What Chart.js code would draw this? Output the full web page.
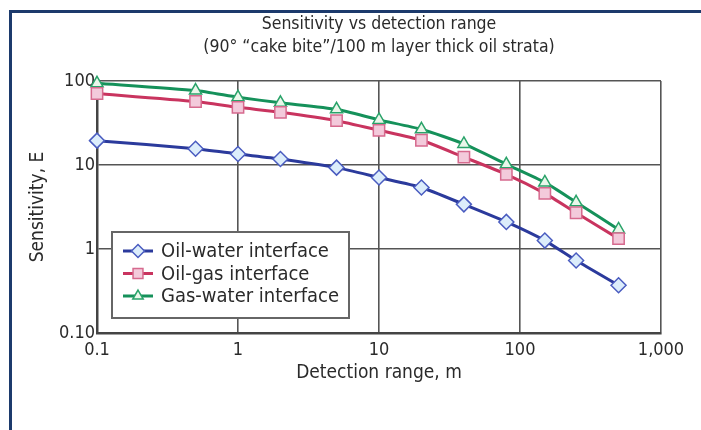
<!DOCTYPE html>
<html>
<head>
<meta charset="utf-8">
<script src="https://cdn.jsdelivr.net/npm/chart.js@4/dist/chart.umd.min.js"></script>
<style>
    html, body { margin: 0; padding: 0; background: #fff; }
    #wrap { position: relative; width: 701px; height: 430px; overflow: hidden; }
    #frame { position: absolute; left: 9px; top: 10px; width: 800px; height: 500px;
             border-left: 3px solid #1c3a6c; border-top: 3px solid #1c3a6c; }
    #sensChart { position: absolute; left: 0; top: 0; }
</style>
</head>
<body>
<div id="wrap">
    <div id="frame"></div>
    <canvas id="sensChart" width="701" height="430"></canvas>
</div>
<script>
// detection range (m) and sensitivity values
const ranges = [0.1, 0.5, 1, 2, 5, 10, 20, 40, 80, 150, 250, 500];
const oilWater = [19.5, 15.6, 13.5, 11.8, 9.3, 7.1, 5.4, 3.4, 2.1, 1.26, 0.73, 0.37];
const oilGas = [71, 57, 48.6, 42.4, 33.7, 25.9, 19.7, 12.4, 7.75, 4.6, 2.7, 1.33];
const gasWater = [94, 77, 64, 55, 46, 34.4, 26.6, 17.8, 10.2, 6.2, 3.6, 1.71];

const xTicks = [0.1, 1, 10, 100, 1000];
const xTickLabels = ['0.1', '1', '10', '100', '1,000'];
const yTicks = [0.1, 1, 10, 100];
const yTickLabels = ['0.10', '1', '10', '100'];

const FONT = "'DejaVu Sans Condensed', 'Liberation Sans', sans-serif";
const TEXT = '#2a2a2a';

function pts(vals) {
    return ranges.map((r, i) => ({ x: r, y: vals[i] }));
}

// legend box drawn inside the plot, lower left
const boxLegend = {
    id: 'boxLegend',
    afterDraw(chart) {
        const ctx = chart.ctx;
        const x0 = 112, y0 = 232, w = 237, h = 86;
        ctx.save();
        ctx.fillStyle = '#fff';
        ctx.fillRect(x0, y0, w, h);
        ctx.strokeStyle = '#666';
        ctx.lineWidth = 2;
        ctx.strokeRect(x0, y0, w, h);
        ctx.font = '20px ' + FONT;
        ctx.textBaseline = 'middle';
        chart.data.datasets.forEach((ds, i) => {
            const y = 251 + i * 22.5;
            ctx.strokeStyle = ds.borderColor;
            ctx.lineWidth = 3;
            ctx.beginPath();
            ctx.moveTo(123, y);
            ctx.lineTo(153, y);
            ctx.stroke();
            ctx.fillStyle = ds.pointBackgroundColor;
            ctx.strokeStyle = ds.pointBorderColor;
            ctx.lineWidth = 1.5;
            Chart.helpers.drawPoint(ctx, { pointStyle: ds.pointStyle, radius: ds.pointRadius - 1, borderWidth: 1.5 }, 138, y);
            ctx.fillStyle = TEXT;
            ctx.fillText(ds.label, 161, y + 1);
        });
        ctx.restore();
    }
};

new Chart(document.getElementById('sensChart'), {
    type: 'line',
    data: {
        datasets: [{
            label: 'Oil-water interface',
            data: pts(oilWater),
            borderColor: '#2b3a9c',
            backgroundColor: '#2b3a9c',
            pointStyle: 'rectRot',
            pointRadius: 7.5,
            pointBackgroundColor: '#dcedfb',
            pointBorderColor: '#4a5cc0',
            pointBorderWidth: 1.5,
            borderWidth: 3,
            tension: 0.2,
            clip: false
        }, {
            label: 'Oil-gas interface',
            data: pts(oilGas),
            borderColor: '#c9345f',
            backgroundColor: '#c9345f',
            pointStyle: 'rect',
            pointRadius: 8,
            pointBackgroundColor: '#f3cadb',
            pointBorderColor: '#d66a8e',
            pointBorderWidth: 1.5,
            borderWidth: 3,
            tension: 0.2,
            clip: false
        }, {
            label: 'Gas-water interface',
            data: pts(gasWater),
            borderColor: '#15915a',
            backgroundColor: '#15915a',
            pointStyle: 'triangle',
            pointRadius: 7,
            pointBackgroundColor: '#eaf7ea',
            pointBorderColor: '#2aa36a',
            pointBorderWidth: 1.5,
            borderWidth: 3,
            tension: 0.2,
            clip: false
        }]
    },
    options: {
        responsive: false,
        animation: false,
        layout: { padding: { left: 27, right: 40, top: 0, bottom: 0 } },
        scales: {
            x: {
                type: 'logarithmic',
                min: 0.1,
                max: 1000,
                afterBuildTicks: scale => { scale.ticks = xTicks.map(v => ({ value: v })); },
                afterFit: scale => { scale.height = 97; },
                ticks: {
                    autoSkip: false,
                    maxRotation: 0,
                    padding: 7,
                    color: TEXT,
                    font: { family: FONT, size: 18 },
                    callback: v => xTickLabels[xTicks.indexOf(v)]
                },
                grid: { color: '#555', lineWidth: 1.6, drawTicks: false },
                border: { color: '#444', width: 2.5 },
                title: {
                    display: true,
                    text: 'Detection range, m',
                    color: TEXT,
                    font: { family: FONT, size: 19, lineHeight: '22px' },
                    padding: { top: 0, bottom: 46 }
                }
            },
            y: {
                type: 'logarithmic',
                min: 0.1,
                max: 100,
                afterBuildTicks: scale => { scale.ticks = yTicks.map(v => ({ value: v })); },
                afterFit: scale => { scale.width = 70; },
                ticks: {
                    padding: 2,
                    color: TEXT,
                    font: { family: FONT, size: 18 },
                    callback: v => yTickLabels[yTicks.indexOf(v)]
                },
                grid: { color: '#555', lineWidth: 1.6, drawTicks: false },
                border: { color: '#444', width: 2.5 },
                title: {
                    display: true,
                    text: 'Sensitivity, E',
                    color: TEXT,
                    font: { family: FONT, size: 19, lineHeight: '22px' },
                    padding: { top: 0, bottom: 0 }
                }
            }
        },
        plugins: {
            title: {
                display: true,
                fullSize: false,
                text: ['Sensitivity vs detection range', '(90\u00b0 \u201ccake bite\u201d/100 m layer thick oil strata)'],
                color: TEXT,
                font: { family: FONT, size: 17.5, weight: 'normal', lineHeight: '23px' },
                padding: { top: 12.5, bottom: 22.5 }
            },
            legend: { display: false },
            tooltip: { enabled: false }
        }
    },
    plugins: [boxLegend]
});
</script>
</body>
</html>
